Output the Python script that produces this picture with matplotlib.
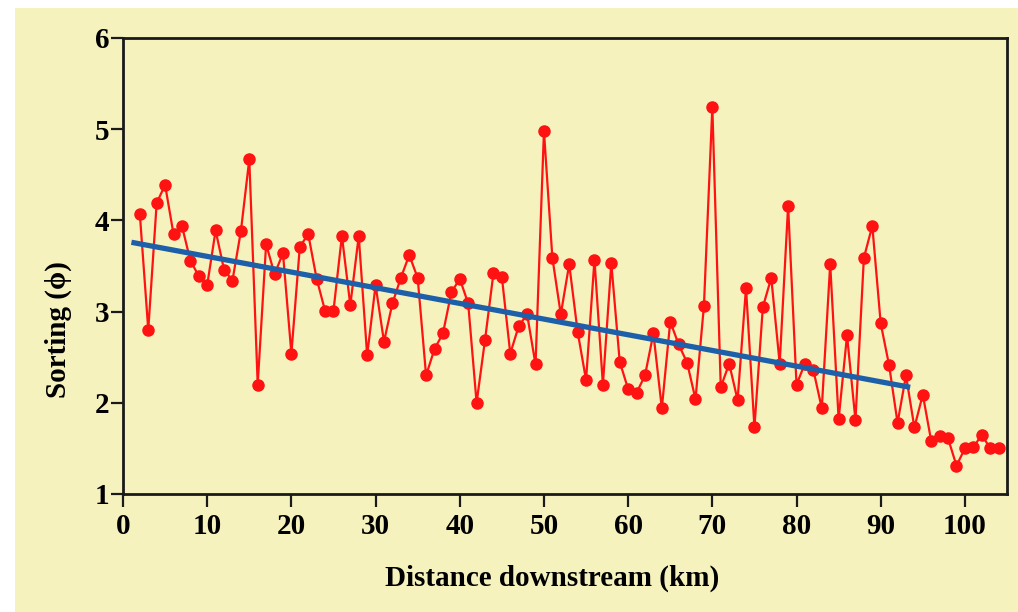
import numpy as np
import matplotlib
matplotlib.use("Agg")
import matplotlib.pyplot as plt
from matplotlib.patches import Rectangle

# distance downstream (km) and sorting values
distance = list(range(2, 105))
sorting = [4.07, 2.80, 4.19, 4.39, 3.85, 3.94, 3.56, 3.39, 3.29, 3.89,
           3.46, 3.34, 3.88, 4.67, 2.20, 3.74, 3.41, 3.64, 2.54, 3.71,
           3.85, 3.36, 3.01, 3.01, 3.83, 3.07, 3.83, 2.52, 3.29, 2.67,
           3.09, 3.37, 3.62, 3.37, 2.30, 2.59, 2.76, 3.21, 3.36, 3.09,
           2.00, 2.69, 3.42, 3.38, 2.54, 2.84, 2.97, 2.42, 4.98, 3.59,
           2.97, 3.52, 2.78, 2.25, 3.57, 2.20, 3.53, 2.45, 2.15, 2.11,
           2.30, 2.76, 1.94, 2.89, 2.64, 2.44, 2.04, 3.06, 5.24, 2.17,
           2.43, 2.03, 3.26, 1.73, 3.05, 3.37, 2.43, 4.16, 2.20, 2.43,
           2.36, 1.94, 3.52, 1.82, 2.74, 1.81, 3.59, 3.94, 2.87, 2.41,
           1.78, 2.30, 1.73, 2.09, 1.58, 1.64, 1.61, 1.31, 1.50, 1.51,
           1.65, 1.50, 1.50]

# trend line end points
trend_x = [1.0, 93.5]
trend_y = [3.76, 2.17]

x_ticks = [0, 10, 20, 30, 40, 50, 60, 70, 80, 90, 100]
y_ticks = [1, 2, 3, 4, 5, 6]

bg = "#f6f2be"
serif = ["Liberation Serif", "DejaVu Serif"]

fig = plt.figure(figsize=(10.18, 6.12), dpi=100, facecolor="white")
# yellow panel, with thin white strip on left and top
fig.patches.append(Rectangle((15 / 1018, 0), 1 - 15 / 1018, 1 - 8 / 612,
                             transform=fig.transFigure, facecolor=bg,
                             edgecolor="none", zorder=-5))

ax = fig.add_axes([123 / 1018, 1 - 494 / 612, (1007 - 123) / 1018, (494 - 38) / 612])
ax.set_facecolor(bg)

ax.plot(distance, sorting, color="#ff1212", lw=1.6, marker="o", ms=8,
        mec="#ff1212", mfc="#ff1212", zorder=3)
ax.plot(trend_x, trend_y, color="#1d5fa8", lw=3.8, solid_capstyle="butt", zorder=4)

ax.set_xlim(0, 105)
ax.set_ylim(1, 6)
ax.set_xticks(x_ticks)
ax.set_yticks(y_ticks)

for s in ax.spines.values():
    s.set_linewidth(2)
    s.set_color("#1a1a1a")

ax.tick_params(axis="both", direction="out", length=9, width=1.6, color="#1a1a1a")
ax.tick_params(axis="x", pad=5)
ax.tick_params(axis="y", pad=1)
for lab in ax.get_xticklabels() + ax.get_yticklabels():
    lab.set_family(serif)
    lab.set_fontweight("bold")
    lab.set_fontsize(21)

ax.set_xlabel("Distance downstream (km)", family=serif, fontweight="bold",
              fontsize=21)
ax.set_ylabel("Sorting (\u03d5)", family=serif, fontweight="bold",
              fontsize=21)
ax.xaxis.set_label_coords(0.485, -0.155)
ax.yaxis.set_label_coords(-0.058, 0.36)

fig.savefig("out.png", dpi=100, facecolor=fig.get_facecolor())
